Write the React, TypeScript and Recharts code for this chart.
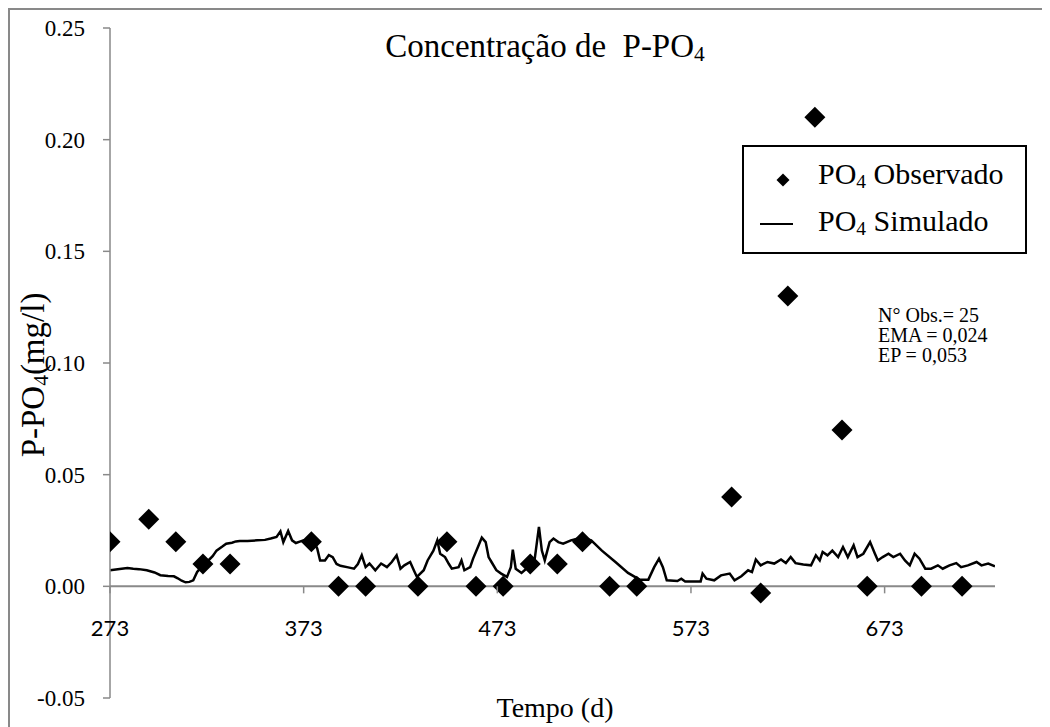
import React from 'react';
import {
  ComposedChart, Line, Scatter, XAxis, YAxis, ReferenceLine, Legend,
} from 'recharts';

// tempo (d) e concentração simulada de P-PO4 (mg/l)
const simDays = [
  273, 278, 282, 285, 288, 292, 296, 299, 303, 306, 308, 310, 312, 314, 316, 318, 320, 323, 326, 328,
  331, 333, 336, 338, 340, 344, 349, 353, 356, 359, 361, 362.5, 365, 367, 369, 371, 373, 376, 378, 380,
  381.5, 384, 386, 388, 390, 392, 396, 399, 401, 403, 405, 407, 410, 413, 416, 418.5, 421, 423, 425, 428,
  430, 431.5, 435, 437, 440, 442, 443.5, 446, 448, 449.5, 453, 454.5, 456, 459, 460.5, 463, 465, 467, 468.5, 470,
  472.5, 475, 478, 480, 481, 482.5, 485.5, 489, 492, 494.5, 496, 497.5, 500, 502, 504.5, 507, 511, 516.5, 521.5, 527,
  534, 540.5, 546.5, 551, 554, 556.5, 558.5, 560.5, 566, 568, 570, 578, 579, 581, 585, 588.5, 593, 595.5, 599, 602.5,
  604.5, 606.5, 609, 612.5, 616, 619.5, 622, 624.5, 627, 631, 635, 637.5, 639.5, 641, 643.5, 646, 649, 651.5, 654, 657,
  659, 662, 665.5, 668, 669.5, 672, 675, 677.5, 681, 683.5, 686, 688.5, 691, 694, 697, 700.5, 703, 706.5, 710, 712.5,
  716, 720.5, 723, 726.5, 730,
];
const simValues = [
  0.0072, 0.0078, 0.0082, 0.0079, 0.0077, 0.0072, 0.0062, 0.005, 0.0046, 0.0045, 0.0036, 0.0025, 0.0018, 0.002, 0.0027, 0.0064, 0.0085, 0.0109, 0.0135, 0.016,
  0.0178, 0.0191, 0.0195, 0.0201, 0.0203, 0.0203, 0.0206, 0.0208, 0.0214, 0.0221, 0.0246, 0.0198, 0.0248, 0.0206, 0.0194, 0.02, 0.0206, 0.02, 0.0203, 0.017,
  0.0116, 0.0116, 0.014, 0.0131, 0.01, 0.0092, 0.0085, 0.0079, 0.01, 0.0139, 0.0086, 0.0102, 0.0072, 0.0102, 0.0086, 0.0109, 0.0139, 0.0079, 0.0094, 0.0109,
  0.007, 0.0042, 0.0072, 0.0116, 0.016, 0.0206, 0.0146, 0.0131, 0.01, 0.0079, 0.0086, 0.0116, 0.0072, 0.0086, 0.0124, 0.0176, 0.0218, 0.0198, 0.0131, 0.0109,
  0.0072, 0.0057, 0.0042, 0.0086, 0.0164, 0.0079, 0.006, 0.0086, 0.0102, 0.0266, 0.016, 0.0116, 0.0198, 0.0214, 0.0198, 0.0191, 0.0206, 0.0218, 0.0206, 0.016,
  0.0109, 0.006, 0.003, 0.003, 0.0086, 0.0124, 0.0086, 0.0027, 0.0024, 0.0034, 0.0022, 0.0022, 0.0057, 0.0034, 0.0027, 0.0049, 0.0057, 0.0027, 0.0045, 0.0072,
  0.0064, 0.012, 0.0094, 0.0109, 0.0102, 0.012, 0.0104, 0.0131, 0.0104, 0.0098, 0.0094, 0.0139, 0.0116, 0.0154, 0.0139, 0.016, 0.0131, 0.0176, 0.0131, 0.0184,
  0.0131, 0.0146, 0.0198, 0.0146, 0.0116, 0.0131, 0.0146, 0.0131, 0.0146, 0.0116, 0.0094, 0.0146, 0.0124, 0.0079, 0.0079, 0.0094, 0.0079, 0.0094, 0.0104, 0.0086,
  0.0094, 0.0109, 0.0094, 0.0102, 0.009,
];

// observações (25)
const obsDays = [273, 293, 307, 321, 335, 377, 391, 405, 432, 447, 462, 476, 490, 504, 517, 531, 545, 594, 609, 623, 637, 651, 664, 692, 713];
const obsValues = [0.02, 0.03, 0.02, 0.01, 0.01, 0.02, 0, 0, 0, 0.02, 0, 0, 0.01, 0.01, 0.02, 0, 0, 0.04, -0.003, 0.13, 0.21, 0.07, 0, 0, 0];

const xTicks = [273, 373, 473, 573, 673];
const yTicks = [-0.05, 0, 0.05, 0.1, 0.15, 0.2, 0.25];
const xDomain = [273, 730];
const yDomain = [-0.05, 0.25];

const simData = simDays.map((t, i) => ({ t, v: simValues[i] }));
const obsData = obsDays.map((t, i) => ({ t, v: obsValues[i] }));

const serif = "'Liberation Serif', 'Times New Roman', serif";
const GRAY = '#898989';
const W = 1040;
const H = 717;
const PLOT_H = 670;
// distance from the bottom of the plot up to the y = 0 line
const ZERO_OFFSET = (PLOT_H * (0 - yDomain[0])) / (yDomain[1] - yDomain[0]);

const XTick = ({ x, y, payload }: any) => {
  const zy = y - ZERO_OFFSET;
  return (
    <g>
      <line x1={x} x2={x} y1={zy} y2={zy + 7} stroke={GRAY} strokeWidth={1.5} />
      <text x={x} y={zy + 41} textAnchor="middle" dominantBaseline="central"
        fontFamily="Lato, 'Open Sans', sans-serif" fontSize={22} fill="#000">
        {payload.value}
      </text>
    </g>
  );
};

const Diamond = ({ cx, cy }: any) => {
  if (cx == null || cy == null) return null;
  const r = 10.5;
  return <polygon points={`${cx},${cy - r} ${cx + r},${cy} ${cx},${cy + r} ${cx - r},${cy}`} fill="#000" />;
};

const sub = <sub style={{ fontSize: '0.65em', verticalAlign: '-0.2em' }}>4</sub>;

const renderLegend = () => (
  <div style={{
    position: 'relative', width: 285, height: 109, boxSizing: 'border-box',
    border: '2px solid #000', background: '#fff', fontFamily: serif, fontSize: 30, color: '#000',
  }}>
    <svg width={80} height={105} style={{ position: 'absolute', left: 0, top: 0 }}>
      <polygon points="39,26.5 45.5,33 39,39.5 32.5,33" fill="#000" />
      <line x1={16} x2={49} y1={77} y2={77} stroke="#000" strokeWidth={2} />
    </svg>
    <div style={{ position: 'absolute', left: 74, top: 28, transform: 'translateY(-50%)', whiteSpace: 'nowrap', lineHeight: 1 }}>
      PO{sub} Observado
    </div>
    <div style={{ position: 'absolute', left: 74, top: 75, transform: 'translateY(-50%)', whiteSpace: 'nowrap', lineHeight: 1 }}>
      PO{sub} Simulado
    </div>
  </div>
);

export default function App() {
  return (
    <div style={{
      position: 'relative', width: W, height: H, background: '#fff',
      borderTop: `2px solid ${GRAY}`, borderLeft: `2px solid ${GRAY}`, fontFamily: serif, color: '#000',
    }}>
      <ComposedChart width={W} height={H} margin={{ top: 18, right: 55, bottom: 0, left: 0 }}>
        <XAxis dataKey="t" type="number" domain={xDomain} ticks={xTicks} allowDataOverflow
          axisLine={false} tickLine={false} tickSize={0} tickMargin={0} height={29}
          tick={XTick} interval={0} />
        <YAxis type="number" domain={yDomain} ticks={yTicks} width={100} allowDataOverflow
          tickFormatter={(v: number) => v.toFixed(2)} interval={0}
          axisLine={{ stroke: GRAY, strokeWidth: 1.5 }} tickLine={{ stroke: GRAY, strokeWidth: 1.5 }}
          tickSize={7} tickMargin={18}
          tick={{ fill: '#000', fontFamily: serif, fontSize: 23 }} />
        <ReferenceLine y={0} stroke={GRAY} strokeWidth={2} />
        <Line data={simData} dataKey="v" type="linear" stroke="#000" strokeWidth={2.5}
          dot={false} activeDot={false} isAnimationActive={false} />
        <Scatter data={obsData} dataKey="v" fill="#000" shape={Diamond} isAnimationActive={false} />
        <Legend layout="horizontal" verticalAlign="middle" align="center"
          wrapperStyle={{ top: 135, left: 732, right: 'auto', bottom: 'auto', width: 285, height: 109 }}
          content={renderLegend} />
      </ComposedChart>

      <div style={{ position: 'absolute', left: 535, top: 38, transform: 'translate(-50%, -50%)', whiteSpace: 'pre', fontSize: 33, lineHeight: 1 }}>
        Concentração de  P-PO{sub}
      </div>
      <div style={{ position: 'absolute', left: 25, top: 365, transform: 'translate(-50%, -50%) rotate(-90deg)', whiteSpace: 'nowrap', fontSize: 33, lineHeight: 1 }}>
        P-PO{sub}(mg/l)
      </div>
      <div style={{ position: 'absolute', left: 545, top: 698, transform: 'translate(-50%, -50%)', whiteSpace: 'nowrap', fontSize: 28, lineHeight: 1 }}>
        Tempo (d)
      </div>
      <div style={{ position: 'absolute', left: 868, top: 295, fontSize: 20, lineHeight: '20px', whiteSpace: 'nowrap' }}>
        <div>N° Obs.= 25</div>
        <div>EMA = 0,024</div>
        <div>EP = 0,053</div>
      </div>
    </div>
  );
}
